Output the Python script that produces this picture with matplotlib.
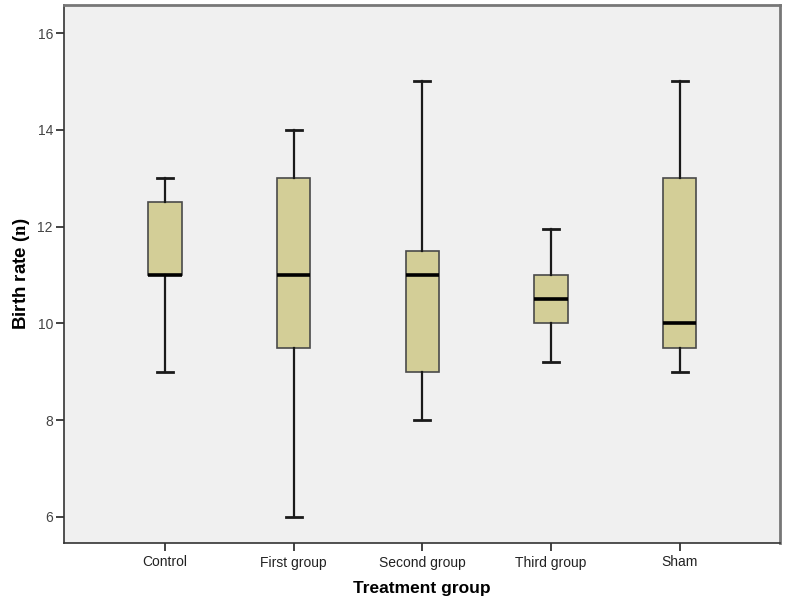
import matplotlib
matplotlib.use("Agg")
import matplotlib.pyplot as plt

groups = ["Control", "First group", "Second group", "Third group", "Sham"]
whisker_low = [9, 6, 8, 9.2, 9]
q1 = [11, 9.5, 9, 10, 9.5]
median = [11, 11, 11, 10.5, 10]
q3 = [12.5, 13, 11.5, 11, 13]
whisker_high = [13, 14, 15, 11.95, 15]
y_ticks = [6, 8, 10, 12, 14, 16]

plt.rcParams['font.family'] = ['Liberation Sans', 'DejaVu Sans']
plt.rcParams['mathtext.fontset'] = 'stix'

fig = plt.figure(figsize=(7.86, 6.01), dpi=100)
ax = fig.add_axes([64/786, 58/601, 716/786, 538/601])
ax.set_facecolor('#F0F0F0')

stats = []
for i, g in enumerate(groups):
    stats.append(dict(label=g, whislo=whisker_low[i], q1=q1[i], med=median[i],
                      q3=q3[i], whishi=whisker_high[i], fliers=[]))

positions = list(range(1, len(groups) + 1))
ax.bxp(stats, positions=positions, widths=0.26, patch_artist=True, showfliers=False,
       boxprops=dict(facecolor='#D3CE97', edgecolor='#4a4a4a', linewidth=1.2),
       medianprops=dict(color='black', linewidth=2.6, solid_capstyle='butt'),
       whiskerprops=dict(color='#1a1a1a', linewidth=1.6),
       capprops=dict(color='#1a1a1a', linewidth=2.0),
       capwidths=0.125)

ax.set_xlim(0.215, 5.78)
ax.set_ylim(5.46, 16.58)
ax.set_yticks(y_ticks)
ax.set_yticklabels([str(t) for t in y_ticks])
ax.set_xticks(positions)
ax.set_xticklabels(groups)
ax.tick_params(axis='both', labelsize=10, colors='#222222', length=6, width=1.2, direction='out')
ax.tick_params(axis='y', labelcolor='#444444', pad=2)
ax.tick_params(axis='x', pad=3)

for side, sp in ax.spines.items():
    sp.set_color('#333333')
    sp.set_linewidth(1.2)
ax.spines['top'].set_color('#777777')
ax.spines['right'].set_color('#777777')
ax.spines['top'].set_linewidth(2)
ax.spines['right'].set_linewidth(2)

ax.set_xlabel('Treatment group', fontsize=12.5, fontweight='bold', labelpad=8)
ax.set_ylabel(r'Birth rate ($\mathbf{n}$)', fontsize=13.5, fontweight='bold', labelpad=4)

fig.savefig('out.png', dpi=100, facecolor='white')
